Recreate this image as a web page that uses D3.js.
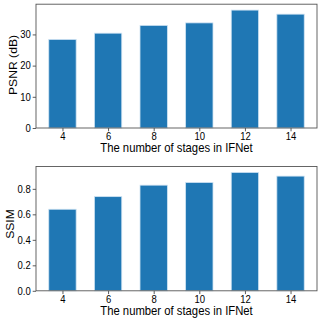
<!DOCTYPE html>
<html>
<head>
<meta charset="utf-8">
<script src="https://cdn.jsdelivr.net/npm/d3@7"></script>
<style>
  body { margin: 0; background: #fff; }
  svg { display: block; font-family: "Liberation Sans", Arial, sans-serif; }
  .tick text { font-size: 9.5px; fill: #000; }
  .label { font-size: 11.3px; fill: #000; }
</style>
</head>
<body>
<svg width="322" height="322"></svg>
<script>
const stages = ['4', '6', '8', '10', '12', '14'];
const psnr = [28.4, 30.4, 32.9, 33.7, 37.8, 36.5];
const ssim = [0.64, 0.739, 0.829, 0.85, 0.929, 0.90];
const psnrTicks = [0, 10, 20, 30];
const ssimTicks = [0, 0.2, 0.4, 0.6, 0.8];

const svg = d3.select('svg');
const left = 36;
const right = 317;
// the source figure is a little taller than wide, text looks stretched
const k = 1.075;

// matplotlib style: bar width 0.6, 5% margins
const xScale = d3.scaleLinear()
  .domain([-0.58, stages.length - 1 + 0.58])
  .range([left, right]);

function stretch(sel) {
  sel.each(function () {
    const t = d3.select(this);
    const x = +t.attr('x') || 0;
    const y = +t.attr('y') || 0;
    t.attr('transform', `translate(${x},${y}) scale(1,${k}) translate(${-x},${-y})`);
  });
}

function drawPanel(values, ticks, fmt, top, bottom, ylabel, ylabelX, ylabelY) {
  const yMax = d3.max(values) * 1.05;
  const yScale = d3.scaleLinear()
    .domain([0, yMax])
    .range([bottom, top]);

  const g = svg.append('g');

  g.selectAll('rect.bar')
    .data(values)
    .enter()
    .append('rect')
    .attr('class', 'bar')
    .attr('x', (d, i) => xScale(i - 0.3))
    .attr('y', (d) => yScale(d))
    .attr('width', xScale(0.3) - xScale(-0.3))
    .attr('height', (d) => yScale(0) - yScale(d))
    .attr('fill', '#1f77b4')
    .attr('stroke', '#cfe3f3')
    .attr('stroke-width', 0.8);

  g.append('g')
    .attr('transform', `translate(0, ${bottom})`)
    .call(d3.axisBottom(xScale)
      .tickValues(d3.range(stages.length))
      .tickFormat((i) => stages[i])
      .tickSize(3.3)
      .tickPadding(1.7))
    .call((a) => a.select('.domain').remove())
    .call((a) => stretch(a.selectAll('text')));

  g.append('g')
    .attr('transform', `translate(${left}, 0)`)
    .call(d3.axisLeft(yScale)
      .tickValues(ticks)
      .tickFormat(fmt)
      .tickSize(3.3)
      .tickPadding(2))
    .call((a) => a.select('.domain').remove())
    .call((a) => stretch(a.selectAll('text')));

  g.selectAll('.tick line').attr('stroke', '#333').attr('stroke-width', 0.8);

  g.append('rect')
    .attr('x', left)
    .attr('y', top)
    .attr('width', right - left)
    .attr('height', bottom - top)
    .attr('fill', 'none')
    .attr('stroke', '#555')
    .attr('stroke-width', 0.9);

  g.append('text')
    .attr('class', 'label')
    .attr('x', (left + right) / 2)
    .attr('y', bottom + 24.5)
    .attr('text-anchor', 'middle')
    .text('The number of stages in IFNet')
    .call(stretch);

  g.append('text')
    .attr('class', 'label')
    .attr('transform', `translate(${ylabelX}, ${ylabelY}) scale(1,${k}) rotate(-90)`)
    .attr('text-anchor', 'middle')
    .text(ylabel);
}

drawPanel(psnr, psnrTicks, d3.format('d'), 4.2, 128, 'PSNR (dB)', 16.5, 65);
drawPanel(ssim, ssimTicks, d3.format('.1f'), 166.5, 290.8, 'SSIM', 14.3, 224);
</script>
</body>
</html>
